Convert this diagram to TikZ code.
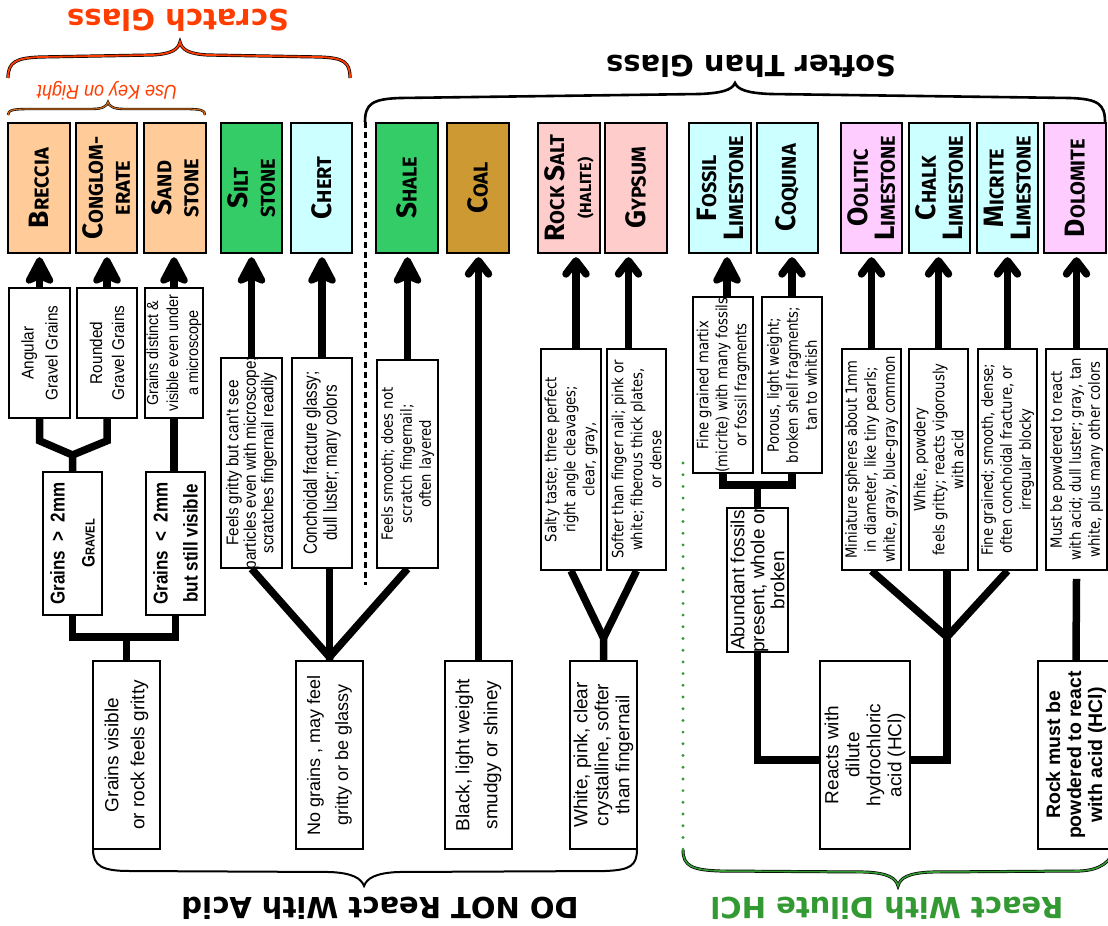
\documentclass[tikz,border=0pt]{standalone}
\usepackage{fontspec}
\usetikzlibrary{arrows.meta}
\setmainfont{Liberation Sans}
\newfontfamily\arialf{Liberation Sans}
\newfontfamily\lightf[FakeStretch=0.9]{Liberation Sans}
\newfontfamily\narrowf[FakeStretch=0.8]{Liberation Sans}
\newfontfamily\boldnf[FakeStretch=0.85]{Liberation Sans}
\newfontfamily\humf[FakeStretch=0.85]{DejaVu Sans}
\newfontfamily\rockf{Fira Sans}
\newfontfamily\titlef{DejaVu Sans}
\newfontfamily\keyf[FakeStretch=0.9]{Liberation Sans}
\newcommand\rbig[1]{{\fontsize{28}{28}\selectfont #1}}
\newcommand\rsm[1]{{\fontsize{20}{20}\selectfont #1}}
\newcommand\rtiny[1]{{\fontsize{16}{16}\selectfont #1}}
\definecolor{peach}{HTML}{FFCC99}
\definecolor{sgreen}{HTML}{33CC66}
\definecolor{lcyan}{HTML}{CCFFFF}
\definecolor{coalc}{HTML}{CC9933}
\definecolor{lpink}{HTML}{FFCCCC}
\definecolor{lmag}{HTML}{FFCCFF}
\definecolor{scr}{HTML}{FF3D00}
\definecolor{hclg}{HTML}{339933}
\definecolor{keyb}{HTML}{CC6A1A}
\pgfdeclarelayer{back}
\pgfdeclarelayer{bg}
\pgfsetlayers{back,bg,main}
\tikzset{
  rbox/.style={draw=black, line width=2.4pt, minimum height=130pt, inner sep=0pt},
  dbox/.style={draw=black, line width=1.6pt, fill=white, inner sep=0pt},
  conn/.style={line width=7.5pt, black},
  bigarr/.style={-{Stealth[length=33pt 0 0,width=34pt 0 0,inset=7pt,round]}, shorten >=3pt},
  smallarr/.style={-{Straight Barb[length=13pt,width=20pt,round]}, shorten >=3pt},
  vt/.style={rotate=90, align=center, inner sep=0pt},
  rockt/.style={vt, font=\rockf\bfseries\fontsize{20}{27}\selectfont},
  humt/.style={vt, font=\humf\fontsize{15.5}{19}\selectfont},
  title/.style={rotate=180, font=\titlef\bfseries\fontsize{29}{29}\selectfont},
}
\begin{document}
\begin{tikzpicture}[x=1pt,y=-1pt]
\useasboundingbox (0,0) rectangle (1108,926);
\begin{pgfonlayer}{back}
\fill[white] (0,0) rectangle (1108,926);
\end{pgfonlayer}

% ---------- top rock boxes ----------
\node[rbox, fill=peach,  minimum width=62pt] (brec)  at (39,188) {};
\node[rbox, fill=peach,  minimum width=61pt] (cong)  at (106.5,188) {};
\node[rbox, fill=peach,  minimum width=62pt] (sand)  at (175,188) {};
\node[rbox, fill=sgreen, minimum width=61pt] (silt)  at (251.5,188) {};
\node[rbox, fill=lcyan,  minimum width=61pt] (chert) at (321.5,188) {};
\node[rbox, fill=sgreen, minimum width=62pt] (shale) at (407,188) {};
\node[rbox, fill=coalc,  minimum width=62pt] (coal)  at (478,188) {};
\node[rbox, fill=lpink,  minimum width=62pt] (salt)  at (569,188) {};
\node[rbox, fill=lpink,  minimum width=62pt] (gyp)   at (636,188) {};
\node[rbox, fill=lcyan,  minimum width=62pt] (foss)  at (720,188) {};
\node[rbox, fill=lcyan,  minimum width=61pt] (coq)   at (787.5,188) {};
\node[rbox, fill=lmag,   minimum width=61pt] (ool)   at (871.5,188) {};
\node[rbox, fill=lcyan,  minimum width=61pt] (chalk) at (939.5,188) {};
\node[rbox, fill=lcyan,  minimum width=61pt] (micr)  at (1007.5,188) {};
\node[rbox, fill=lmag,   minimum width=62pt] (dolo)  at (1075,188) {};

% ---------- description boxes ----------
\node[dbox, minimum width=61pt, minimum height=130pt] (angd)   at (39.5,353) {};
\node[dbox, minimum width=60pt, minimum height=130pt] (rndd)   at (107,353) {};
\node[dbox, minimum width=58pt, minimum height=130pt] (sandd)  at (174,353) {};
\node[dbox, minimum width=59pt, minimum height=143pt] (gt2)    at (72.5,543.5) {};
\node[dbox, minimum width=59pt, minimum height=143pt] (lt2)    at (175.5,543.5) {};
\node[dbox, minimum width=67pt, minimum height=188pt] (gvis)   at (126.5,755) {};
\node[dbox, minimum width=61pt, minimum height=210pt] (siltd)  at (251.5,463) {};
\node[dbox, minimum width=60pt, minimum height=210pt] (chertd) at (322,463) {};
\node[dbox, minimum width=61pt, minimum height=208pt] (shaled) at (407.5,464) {};
\node[dbox, minimum width=67pt, minimum height=188pt] (nog)    at (329.5,755) {};
\node[dbox, minimum width=67pt, minimum height=188pt] (black)  at (478.5,755) {};
\node[dbox, minimum width=60pt, minimum height=221pt] (saltd)  at (571,459.5) {};
\node[dbox, minimum width=59pt, minimum height=221pt] (gypd)   at (636.5,459.5) {};
\node[dbox, minimum width=67pt, minimum height=188pt] (white)  at (603.5,755) {};
\node[dbox, minimum width=60pt, minimum height=176pt] (fossd)  at (723,385) {};
\node[dbox, minimum width=60pt, minimum height=176pt] (coqd)   at (792,385) {};
\node[dbox, minimum width=61pt, minimum height=144pt] (abund)  at (757.5,580) {};
\node[dbox, minimum width=59pt, minimum height=221pt] (oold)   at (871.5,459.5) {};
\node[dbox, minimum width=59pt, minimum height=221pt] (chalkd) at (938.5,459.5) {};
\node[dbox, minimum width=59pt, minimum height=221pt] (micrd)  at (1007.5,459.5) {};
\node[dbox, minimum width=61pt, minimum height=221pt] (dolod)  at (1076.5,459.5) {};
\node[dbox, minimum width=90pt, minimum height=188pt] (react)  at (865,755) {};
\node[dbox, minimum width=76pt, minimum height=188pt] (rock)   at (1076,755) {};

% ---------- junction points ----------
\coordinate (jg) at (72.5,455);
\coordinate (jb) at (126.5,637);
\coordinate (jn) at (329.5,657);
\coordinate (jw) at (603.5,638);
\coordinate (jf) at (757.5,485);
\coordinate (jh) at (947,637);
\coordinate (hb) at (852,760);

\begin{pgfonlayer}{bg}
% braces
\draw[line width=0.7pt, double=scr, double distance=1.8pt]
  (8,78) .. controls (8,62) and (16,58) .. (40,57) -- (152,55)
  .. controls (171,54) and (178,50) .. (180,42)
  .. controls (182,50) and (189,54) .. (208,55) -- (320,57)
  .. controls (344,58) and (350,62) .. (350,78);
\draw[line width=0.6pt, double=keyb, double distance=1.2pt]
  (8,115) .. controls (8,110) and (13,109) .. (30,109) -- (92,109)
  .. controls (103,109) and (107,106) .. (108,102)
  .. controls (109,106) and (113,109) .. (124,109) -- (185,109)
  .. controls (201,109) and (205,110) .. (205,115);
\draw[line width=2.6pt]
  (365,122) .. controls (365,104) and (372,99) .. (400,98) -- (700,94)
  .. controls (722,93) and (732,90) .. (735,83)
  .. controls (738,90) and (748,93) .. (770,94) -- (1070,98)
  .. controls (1098,99) and (1105,104) .. (1105,122);
\draw[line width=2pt]
  (93,849) .. controls (93,866) and (102,871) .. (130,871) -- (330,872)
  .. controls (352,873) and (361,878) .. (364,886)
  .. controls (367,878) and (376,873) .. (398,872) -- (605,871)
  .. controls (630,870) and (637,866) .. (637,849);
\draw[line width=0.7pt, double=hclg, double distance=1.6pt]
  (683,850) .. controls (683,866) and (692,870) .. (720,871) -- (865,872)
  .. controls (888,873) and (896,878) .. (898,886)
  .. controls (900,878) and (908,873) .. (931,872) -- (1080,871)
  .. controls (1100,870) and (1112,862) .. (1115,846);
% separators
\draw[line width=3pt, dash pattern=on 6pt off 4pt] (365,122) -- (365,585);
\draw[hclg, line width=3.2pt, line cap=round, dash pattern=on 0pt off 11.7pt] (683,463) -- (683,850);

% connectors
\draw[conn] (angd.south) -- ++(0,22) -- (jg) -- (gt2.north);
\draw[conn] (rndd.south) -- ++(0,22) -- (jg);
\draw[conn] (sandd.south) -- (sandd.south |- lt2.north);
\draw[conn] (gt2.south) -- (gt2.south |- jb) -- (lt2.south |- jb) -- (lt2.south);
\draw[conn] (jb) -- (gvis.north);
\draw[conn] (siltd.south) -- (jn) -- (nog.north);
\draw[conn] (shaled.south) -- (jn);
\draw[conn] (jn |- chertd.south) -- (jn);
\draw[conn] (saltd.south) -- (jw) -- (white.north);
\draw[conn] (gypd.south) -- (jw);
\draw[conn] (fossd.south) -- (fossd.south |- jf) -- (coqd.south |- jf) -- (coqd.south);
\draw[conn] (jf) -- (abund.north);
\draw[conn] (abund.south) -- (abund.south |- hb) -- (jh |- hb) -- (jh);
\draw[conn] (oold.south) -- (jh);
\draw[conn] (micrd.south) -- (jh);
\draw[conn] (jh |- chalkd.south) -- (jh);
\draw[conn] ([yshift=-8pt]dolod.south) -- (rock.north);
% arrows
\draw[conn,bigarr] (angd.north) -- (angd.north |- brec.south);
\draw[conn,bigarr] (rndd.north) -- (rndd.north |- cong.south);
\draw[conn,bigarr] (sandd.north) -- (sandd.north |- sand.south);
\draw[conn,bigarr] (siltd.north) -- (silt.south);
\draw[conn,bigarr] (chertd.north) -- (chertd.north |- chert.south);
\draw[conn,bigarr] (shaled.north) -- (shaled.north |- shale.south);
\draw[conn,smallarr] (black.north) -- (black.north |- coal.south);
\draw[conn,smallarr] ([xshift=5pt]saltd.north) -- ([xshift=5pt]saltd.north |- salt.south);
\draw[conn,smallarr] ([xshift=-8pt]gypd.north) -- ([xshift=-8pt]gypd.north |- gyp.south);
\draw[conn,bigarr] ([xshift=4pt]fossd.north) -- ([xshift=4pt]fossd.north |- foss.south);
\draw[conn,smallarr] (coqd.north) -- (coqd.north |- coq.south);
\draw[conn,smallarr] (oold.north) -- (oold.north |- ool.south);
\draw[conn,smallarr] (chalkd.north) -- (chalkd.north |- chalk.south);
\draw[conn,smallarr] (micrd.north) -- (micrd.north |- micr.south);
\draw[conn,smallarr] (dolod.north) -- (dolod.north |- dolo.south);
\end{pgfonlayer}

% ---------- titles ----------
\node[title, text=scr] (tScr) at (178,20) {Scratch Glass};
\node[rotate=180, font=\keyf\itshape\fontsize{20}{20}\selectfont, text=scr] (tKey) at (107,91) {Use Key on Right};
\node[title] (tSoft) at (751,66) {Softer Than Glass};
\node[title] (tNo) at (380,908) {DO NOT React With Acid};
\node[title, text=hclg] (tHcl) at (887,908) {React With Dilute HCl};

% ---------- rock names ----------
\node[rockt] (brecT)  at (brec)  {\rbig{B}\rsm{RECCIA}};
\node[rockt] (congT)  at (cong)  {\rbig{C}\rsm{ONGLOM-}\\\rsm{ERATE}};
\node[rockt] (sandT)  at (sand)  {\rbig{S}\rsm{AND}\\\rsm{STONE}};
\node[rockt] (siltT)  at (silt)  {\rbig{S}\rsm{ILT}\\\rsm{STONE}};
\node[rockt] (chertT) at (chert) {\rbig{C}\rsm{HERT}};
\node[rockt] (shaleT) at (shale) {\rbig{S}\rsm{HALE}};
\node[rockt] (coalT)  at (coal)  {\rbig{C}\rsm{OAL}};
\node[rockt] (saltT)  at (salt)  {\rbig{R}\rsm{OCK} \rbig{S}\rsm{ALT}\\\rtiny{(HALITE)}};
\node[rockt] (gypT)   at (gyp)   {\rbig{G}\rsm{YPSUM}};
\node[rockt] (fossT)  at (foss)  {\rbig{F}\rsm{OSSIL}\\\rbig{L}\rsm{IMESTONE}};
\node[rockt] (coqT)   at (coq)   {\rbig{C}\rsm{OQUINA}};
\node[rockt] (oolT)   at (ool)   {\rbig{O}\rsm{OLITIC}\\\rbig{L}\rsm{IMESTONE}};
\node[rockt] (chalkT) at (chalk) {\rbig{C}\rsm{HALK}\\\rbig{L}\rsm{IMESTONE}};
\node[rockt] (micrT)  at (micr)  {\rbig{M}\rsm{ICRITE}\\\rbig{L}\rsm{IMESTONE}};
\node[rockt] (doloT)  at (dolo)  {\rbig{D}\rsm{OLOMITE}};

% ---------- descriptions ----------
\node[vt, font=\lightf\fontsize{17}{24}\selectfont] (angT) at (angd) {Angular\\Gravel Grains};
\node[vt, font=\lightf\fontsize{17}{22}\selectfont] (rndT) at (rndd) {Rounded\\Gravel Grains};
\node[vt, font=\lightf\fontsize{16}{20}\selectfont] (sandT2) at (sandd) {Grains distinct \&\\visible even under\\a microscope};
\node[vt, font=\boldnf\bfseries\fontsize{20}{30}\selectfont] (gt2T) at (gt2) {Grains~~>~~2mm\\{\fontsize{18}{18}\selectfont G}{\fontsize{13}{13}\selectfont RAVEL}};
\node[vt, font=\boldnf\bfseries\fontsize{20}{30}\selectfont] (lt2T) at (lt2) {Grains~~<~~2mm\\but still visible};
\node[vt, font=\arialf\fontsize{19}{26}\selectfont] (gvisT) at (gvis) {Grains visible\\or rock feels gritty};
\node[vt, font=\lightf\fontsize{17}{17.5}\selectfont] (siltT2) at (siltd) {Feels gritty but can't see\\particles even with microscope;\\scratches fingernail readily};
\node[vt, font=\narrowf\fontsize{19}{20}\selectfont] (chertT2) at (chertd) {Conchoidal fracture glassy;\\dull luster; many colors};
\node[humt] (shaleT2) at (shaled) {Feels smooth; does not\\scratch fingernail;\\often layered};
\node[vt, font=\arialf\fontsize{18}{28}\selectfont] (nogT) at (nog) {No grains , may feel\\gritty or be glassy};
\node[vt, font=\arialf\fontsize{19}{28}\selectfont] (blackT) at (black) {Black, light weight\\smudgy or shiney};
\node[humt] (saltT2) at (saltd) {Salty taste; three perfect\\right angle cleavages;\\clear, gray,};
\node[humt] (gypT2) at (gypd) {Softer than finger nail; pink or\\white; fiberous thick plates,\\or dense};
\node[vt, font=\arialf\fontsize{19}{21}\selectfont] (whiteT) at (white) {White, pink, clear\\crystalline, softer\\than fingernail};
\node[humt] (fossT2) at (fossd) {Fine grained martix\\(micrite) with many fossils\\or fossil fragments};
\node[humt] (coqT2) at (coqd) {Porous, light weight;\\broken shell fragments;\\tan to whitish};
\node[vt, font=\arialf\fontsize{19}{20}\selectfont] (abundT) at (abund) {Abundant fossils\\present, whole or\\broken};
\node[humt] (oolT2) at (oold) {Miniature spheres about 1mm\\in diameter, like tiny pearls;\\white, gray, blue-gray common};
\node[humt] (chalkT2) at (chalkd) {White, powdery\\feels gritty; reacts vigorously\\with acid};
\node[humt] (micrT2) at (micrd) {Fine grained; smooth, dense;\\often conchoidal fracture, or\\irregular blocky};
\node[humt] (doloT2) at (dolod) {Must be powdered to react\\with acid; dull luster; gray, tan\\white, plus many other colors};
\node[vt, font=\arialf\fontsize{19}{21}\selectfont] (reactT) at (react) {Reacts with\\dilute\\hydrochloric\\acid (HCl)};
\node[vt, font=\arialf\bfseries\fontsize{19.5}{21}\selectfont] (rockT) at (rock) {Rock must be\\powdered to react\\with acid (HCl)};
\end{tikzpicture}
\end{document}
